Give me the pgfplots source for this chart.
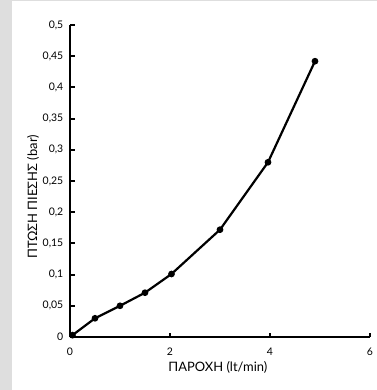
\documentclass[border=0pt]{standalone}
\usepackage{fontspec}
\setmainfont{Lato}
\usepackage{pgfplots}
\pgfplotsset{compat=1.18}
\definecolor{bgray}{HTML}{DEDEDE}
\begin{document}
\begin{tikzpicture}[x=1bp,y=1bp]
\fill[bgray] (0,0) rectangle (377,390);
\fill[white] (12,0) rectangle (377,388.5);
\begin{axis}[
  at={(70bp,53bp)}, anchor=south west,
  scale only axis, width=300bp, height=312bp,
  xmin=0, xmax=6, ymin=0, ymax=0.5,
  axis x line=bottom, axis y line=left,
  axis line style={line width=2.2bp, -},
  xtick={0,2,4,6},
  xticklabels={0,2,4,6},
  ytick={0,0.05,0.1,0.15,0.2,0.25,0.3,0.35,0.4,0.45,0.5},
  yticklabels={0,{0,05},{0,1},{0,15},{0,2},{0,25},{0,3},{0,35},{0,4},{0,45},{0,5}},
  tick align=inside,
  major tick length=4.5bp,
  tick style={black, line width=2bp},
  ticklabel style={font=\fontsize{10.5}{12}\selectfont},
  yticklabel style={inner sep=0pt, xshift=-6.5bp, anchor=east},
  xticklabel style={inner sep=0pt, yshift=-10.5bp, anchor=north},
  xlabel={ΠΑΡΟΧΗ (lt/min)},
  ylabel={ΠΤΩΣΗ ΠΙΕΣΗΣ (bar)},
  label style={font=\fontsize{13}{15}\selectfont},
  xlabel style={at={(axis description cs:0.493,-0.098)}, anchor=center},
  ylabel style={at={(axis description cs:-0.123,0.449)}, anchor=center},
  clip=false,
]
\addplot[black, line width=2.2bp, mark=*, mark size=2.2bp] coordinates {
  (0.05,0.003) (0.5,0.03) (1,0.05) (1.5,0.071) (2.03,0.101) (3,0.172) (3.96,0.28) (4.9,0.442)
};
\end{axis}
\end{tikzpicture}
\end{document}
